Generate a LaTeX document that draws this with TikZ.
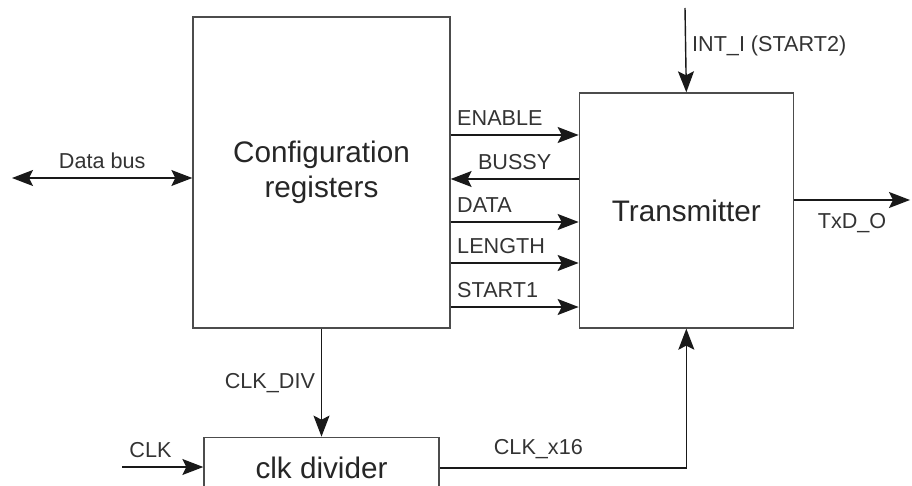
\documentclass[tikz,border=0pt]{standalone}
\usepackage{fontspec}
\setmainfont{Liberation Sans}
\usetikzlibrary{arrows.meta,positioning}

\tikzset{
  block/.style={draw=black!70, line width=0.8pt, rectangle},
  wire/.style={draw=black!90, line width=0.8pt},
  sig/.style={font=\fontsize{12.3}{14}\selectfont, text=black!80, inner ysep=5pt},
  big/.style={font=\fontsize{16.9}{19.8}\selectfont, text=black!85}
}

\begin{document}
\begin{tikzpicture}[x=0.02cm, y=-0.02cm, >={Stealth[length=0.42cm,width=0.32cm,inset=0.08cm]}]
    \clip (0,0) rectangle (912,486);
    % blocks
    \node[block, big, align=center, minimum width=5.14cm, minimum height=6.22cm] (cfg) at (321.5,172.5) {Configuration\\registers};
    \node[block, big, minimum width=4.28cm, minimum height=4.7cm, right=2.56cm of cfg, yshift=-0.76cm] (xmt) {Transmitter\hspace{0.4cm}};
    \node[block, big, minimum width=4.7cm, minimum height=1.22cm, below=2.16cm of cfg] (div) {clk divider};
    % loose ends
    \coordinate (bus) at (12,178);
    \coordinate (intin) at (685,8);
    \coordinate (txd) at (910,200);
    \coordinate (clkin) at (122,467);
    % bus and register outputs
    \draw[wire,<->] (bus) -- (cfg.west |- bus) node[midway,above,sig]{Data bus};
    \draw[wire,->] (cfg.east |- 0,135) -- (xmt.west |- 0,135) node[pos=0,above right,sig]{ENABLE};
    \draw[wire,->] (xmt.west |- 0,179) -- (cfg.east |- 0,179) node[midway,above,sig]{BUSSY};
    \draw[wire,->] (cfg.east |- 0,222) -- (xmt.west |- 0,222) node[pos=0,above right,sig]{DATA};
    \draw[wire,->] (cfg.east |- 0,263) -- (xmt.west |- 0,263) node[pos=0,above right,sig]{LENGTH};
    \draw[wire,->] (cfg.east |- 0,307) -- (xmt.west |- 0,307) node[pos=0,above right,sig]{START1};
    % transmitter in/out
    \draw[wire,->] (intin) -- (xmt.north) node[pos=0.45,right,sig]{INT\_I (START2)};
    \draw[wire,->] (xmt.east |- txd) -- (txd) node[midway,below=2.5pt,sig]{TxD\_O};
    % clocks
    \draw[wire,->] (cfg.south) -- (div.north) node[midway,left,sig]{CLK\_DIV};
    \draw[wire,->] (clkin) -- (div.west |- clkin) node[pos=0.35,above,sig]{CLK};
    \draw[wire,->] (div.east) -- node[pos=0.4,above,sig]{CLK\_x16} (xmt.south |- div.east) -- (xmt.south);
\end{tikzpicture}
\end{document}
